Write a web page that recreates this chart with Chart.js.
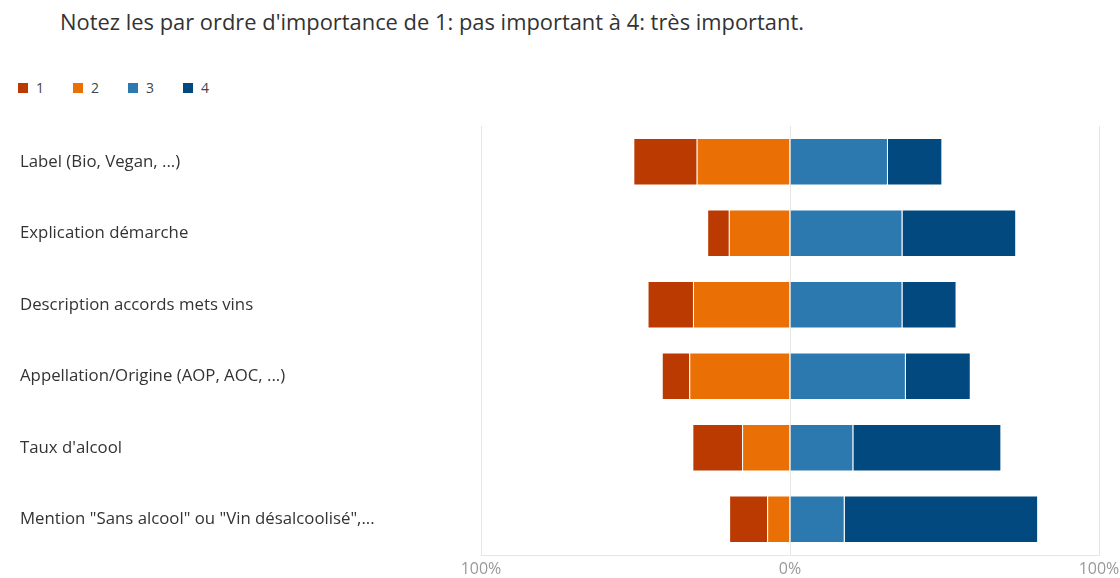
<!DOCTYPE html>
<html>
<head>
<meta charset="utf-8">
<script src="https://cdn.jsdelivr.net/npm/chart.js@4"></script>
<style>
  body { margin: 0; background: #fff; font-family: "Open Sans", "Noto Sans", sans-serif; }
  #wrap { position: relative; width: 1120px; height: 578px; overflow: hidden; }
  #titre { position: absolute; left: 60px; top: 7px; font-size: 21.9px; color: #333; white-space: nowrap; }
  #legende { position: absolute; left: 18px; top: 78px; display: flex; font-size: 14px; color: #444; }
  #legende .item { display: flex; align-items: center; width: 55px; }
  #legende .box { width: 10px; height: 10px; margin-right: 8px; }
  canvas { position: absolute; left: 0; top: 0; }
</style>
</head>
<body>
<div id="wrap">
  <div id="titre">Notez les par ordre d'importance de 1: pas important à 4: très important.</div>
  <div id="legende"></div>
  <canvas id="chart" width="1120" height="578"></canvas>
</div>
<script>
// Catégories (axe vertical)
const categories = [
	"Label (Bio, Vegan, ...)",
	"Explication démarche",
	"Description accords mets vins",
	"Appellation/Origine (AOP, AOC, ...)",
	"Taux d'alcool",
	'Mention "Sans alcool" ou "Vin désalcoolisé",...',
];

// Pourcentages par niveau d'importance
const niveau1 = [20.5, 7.0, 14.7, 8.9, 16.1, 12.3];
const niveau2 = [30.2, 19.8, 31.4, 32.6, 15.5, 7.4];
const niveau3 = [31.7, 36.4, 36.4, 37.5, 20.5, 17.7];
const niveau4 = [17.6, 36.8, 17.5, 21.0, 47.9, 62.6];

const xTicks = [-100, 0, 100];

const couleurs = {
	"1": "#BA3A02",
	"2": "#EA7005",
	"3": "#2C79B0",
	"4": "#02497F",
};

// Légende HTML (1, 2, 3, 4)
const legendeEl = document.getElementById("legende");
["1", "2", "3", "4"].forEach((nom) => {
	const item = document.createElement("div");
	item.className = "item";
	item.innerHTML = `<span class="box" style="background:${couleurs[nom]}"></span><span>${nom}</span>`;
	legendeEl.appendChild(item);
});

const commonDatasetProps = {
	borderWidth: 1,
	borderColor: "rgba(255,255,255,0.25)",
	barPercentage: 0.665,
	categoryPercentage: 1,
	stack: "s",
};

// Les niveaux 1 et 2 vont à gauche (valeurs négatives), 2 collé au centre
new Chart(document.getElementById("chart"), {
	type: "bar",
	data: {
		labels: categories,
		datasets: [
			{ label: "2", data: niveau2.map((v) => -v), backgroundColor: couleurs["2"], ...commonDatasetProps },
			{ label: "1", data: niveau1.map((v) => -v), backgroundColor: couleurs["1"], ...commonDatasetProps },
			{ label: "3", data: niveau3, backgroundColor: couleurs["3"], ...commonDatasetProps },
			{ label: "4", data: niveau4, backgroundColor: couleurs["4"], ...commonDatasetProps },
		],
	},
	options: {
		indexAxis: "y",
		responsive: false,
		animation: false,
		layout: { padding: { top: 126, left: 20, right: 21, bottom: 0 } },
		scales: {
			x: {
				stacked: true,
				min: -100,
				max: 100,
				afterBuildTicks: (scale) => {
					scale.ticks = xTicks.map((v) => ({ value: v }));
				},
				afterFit: (scale) => {
					scale.height = 23;
					// le libellé "100%" de droite peut déborder, comme sur l'original
					scale.paddingRight = 0;
					scale.paddingLeft = 0;
				},
				ticks: {
					padding: 5,
					color: "#999",
					font: { family: "Open Sans", size: 16 },
					callback: (v) => Math.abs(v) + "%",
				},
				grid: { color: "#e6e6e6", drawTicks: false },
				border: { display: true, color: "#e6e6e6" },
			},
			y: {
				stacked: true,
				afterFit: (scale) => {
					scale.width = 461;
				},
				ticks: {
					crossAlign: "far",
					color: "#333",
					font: { family: "Open Sans", size: 16.8 },
				},
				grid: { display: false },
				border: { display: false },
			},
		},
		plugins: {
			legend: { display: false },
			tooltip: { enabled: false },
		},
	},
});
</script>
</body>
</html>
